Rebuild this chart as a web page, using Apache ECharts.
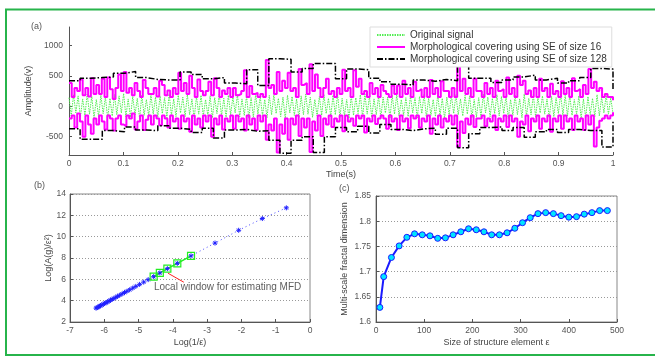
<!DOCTYPE html>
<html><head><meta charset="utf-8">
<script src="https://cdn.jsdelivr.net/npm/echarts@6/dist/echarts.min.js"></script>
<style>html,body{margin:0;padding:0;background:#fff}#c{width:655px;height:357px}</style>
</head><body><div id="c"></div>
<script>
// ---------- Panel (a): signal and morphological coverings ----------
const greenSignal = [
140,-160,190,-110,170,-180,120,-150,200,-130,
160,-190,110,-170,180,-120,150,-200,130,-160,
190,-140,170,-110,210,-170,120,-180,160,-140,
130,-200,180,-150,110,-160,190,-130,150,-180,
170,-120,140,-190,200,-150,120,-170,180,-110,
150,-170,190,-140,120,-200,160,-130,180,-160,
110,-150,170,-190,140,-120,200,-160,130,-180,
180,-140,150,-110,190,-170,120,-150,170,-200,
140,-180,200,-130,160,-150,110,-190,180,-140,
190,-120,130,-170,150,-200,180,-110,160,-150,
120,-190,170,-140,200,-130,150,-180,110,-160,
160,-150,190,-120,130,-170,180,-140,200,-190,
130,-160,110,-200,170,-150,140,-120,190,-180,
200,-130,160,-180,120,-140,170,-190,150,-110,
150,-200,180,-130,190,-160,110,-150,140,-170,
170,-110,140,-190,160,-120,200,-180,130,-150,
110,-170,190,-150,130,-200,150,-140,180,-120,
190,-140,120,-160,180,-130,170,-190,110,-180,
140,-180,200,-110,150,-170,130,-120,190,-160,
160,-120,170,-200,110,-150,180,-140,120,-190,
200,-160,130,-140,190,-180,150,-110,170,-130,
120,-190,160,-170,140,-120,200,-150,180,-160,
180,-150,110,-130,170,-200,120,-190,160,-140,
130,-170,190,-160,150,-110,180,-130,140,-120
];
const magentaUpper = [
380,150,300,250,440,180,300,160,460,200,
350,200,450,150,470,280,120,300,520,250,
560,220,300,180,380,250,150,430,300,200,
200,300,160,420,350,180,260,150,300,200,
550,250,380,200,500,300,150,440,250,180,
250,400,180,460,300,150,260,200,300,150,
300,180,200,250,590,150,330,200,220,150,
200,150,760,300,350,200,560,250,420,300,
550,250,300,150,610,350,380,200,690,250,
520,300,150,300,450,200,250,150,300,200,
600,250,300,150,590,320,450,200,250,150,
380,200,300,150,350,250,200,150,340,200,
340,150,420,200,300,150,400,250,280,150,
300,150,430,200,300,150,410,250,250,150,
300,150,710,250,450,200,300,150,450,250,
250,150,380,200,300,150,420,250,280,150,
470,200,300,150,500,350,420,200,260,150,
300,150,450,250,300,150,370,200,250,150,
410,200,300,150,460,250,280,150,350,200,
610,300,400,250,300,150,200,150,150,100
];
const magentaLower = [
-200,-150,-350,-120,-250,-500,-150,-300,-450,-200,
-300,-150,-250,-380,-150,-200,-400,-200,-150,-300,
-330,-150,-200,-120,-380,-250,-150,-390,-220,-150,
-300,-150,-200,-310,-150,-200,-350,-150,-250,-200,
-370,-150,-250,-200,-420,-150,-300,-200,-350,-150,
-250,-150,-500,-200,-300,-150,-380,-200,-250,-150,
-370,-150,-250,-200,-400,-150,-300,-200,-390,-150,
-250,-150,-550,-300,-400,-200,-760,-300,-450,-200,
-550,-200,-300,-150,-490,-200,-350,-200,-750,-250,
-400,-150,-490,-200,-300,-150,-340,-200,-250,-150,
-410,-150,-250,-200,-320,-150,-200,-150,-430,-200,
-250,-150,-290,-200,-150,-200,-370,-150,-250,-200,
-390,-150,-250,-200,-360,-150,-200,-150,-350,-200,
-250,-150,-450,-200,-300,-150,-350,-200,-250,-150,
-300,-150,-670,-250,-440,-200,-300,-150,-340,-200,
-200,-150,-330,-200,-250,-150,-390,-200,-250,-150,
-340,-150,-250,-200,-500,-250,-300,-150,-410,-200,
-250,-150,-370,-200,-250,-150,-420,-200,-250,-150,
-370,-150,-250,-200,-390,-150,-250,-200,-390,-150,
-300,-150,-660,-350,-240,-200,-150,-200,-150,-100
];
const blackUpper = [
420,460,470,480,540,570,470,440,430,430,
560,520,450,470,380,370,600,340,780,770,
560,620,700,700,450,610,600,460,400,360,
350,430,410,440,420,720,460,460,390,430,
480,510,430,460,380,420,470,620,610,250
];
const blackLower = [
-370,-540,-540,-400,-420,-340,-390,-400,-320,-360,
-380,-430,-360,-520,-390,-380,-410,-400,-560,-770,
-560,-500,-760,-500,-350,-420,-330,-440,-300,-380,
-400,-370,-360,-460,-360,-680,-450,-350,-340,-400,
-350,-510,-420,-380,-430,-380,-400,-400,-670,-250
];
const ampTicks = [-500, 0, 500, 1000];

// ---------- Panel (b): log-log plot ----------
const logInvE = [-0.69,-1.39,-2.08,-2.77,-3.47,-3.87,-4.16,-4.38,-4.56,
  -4.72,-4.85,-4.97,-5.08,-5.17,-5.26,-5.34,-5.41,-5.48,-5.55,-5.61,-5.66,-5.72,
  -5.77,-5.82,-5.86,-5.91,-5.95,-5.99,-6.03,-6.07,-6.11,-6.14,-6.17,-6.21,-6.24];
const logArea = [12.7,11.7,10.6,9.4,8.2,7.5,7.0,6.6,6.25,
  5.97,5.74,5.53,5.34,5.18,5.02,4.88,4.76,4.64,4.51,4.41,4.32,4.21,
  4.13,4.04,3.97,3.88,3.81,3.74,3.67,3.60,3.53,3.48,3.42,3.35,3.30];
const windowX = [-3.47,-3.87,-4.16,-4.38,-4.56];
const windowY = [8.2,7.5,7.0,6.6,6.25];
const pointerX = [-4.14, -3.68];
const pointerY = [6.57, 5.73];
const noteText = 'Local window for estimating MFD';
const notePos = [-4.55, 5.30];

// ---------- Panel (c): multi-scale fractal dimension ----------
const seSize = [8,16,32,48,64,80,96,112,128,144,160,176,192,208,224,240,256,272,288,304,320,336,352,368,384,400,416,432,448,464,480];
const mfd = [1.629,1.690,1.728,1.751,1.768,1.775,1.773,1.771,1.766,1.767,1.773,1.779,1.785,1.783,1.779,1.773,1.773,1.777,1.786,1.797,1.807,1.815,1.817,1.815,1.811,1.808,1.809,1.814,1.817,1.821,1.821];

const FONT = '"Liberation Sans", Arial, sans-serif';
const timed = arr => arr.map((v, i) => [i / (arr.length - 1), v]);
const zip = (xs, ys) => xs.map((x, i) => [x, ys[i]]);

const axisCommon = {
  axisLine: { onZero: false, lineStyle: { color: '#555', width: 1 } },
  axisTick: { inside: true, length: 3, lineStyle: { color: '#555' } },
  axisLabel: { fontSize: 8.5, color: '#555', fontFamily: FONT, margin: 4 },
  nameTextStyle: { fontSize: 9, color: '#444', fontFamily: FONT },
  nameLocation: 'middle'
};
const dotted = { show: true, lineStyle: { type: [1, 2], color: '#999', width: 1 } };

const chart = echarts.init(document.getElementById('c'), null, { renderer: 'canvas' });
const N16 = 'Morphological covering using SE of size 16';
const N128 = 'Morphological covering using SE of size 128';
const blackDash = [6, 2, 1.5, 2];

chart.setOption({
  animation: false,
  backgroundColor: '#fff',
  textStyle: { fontFamily: FONT },
  graphic: [
    { type: 'rect', shape: { x: 6, y: 9.5, width: 660, height: 345.5 }, style: { fill: 'none', stroke: '#27b44b', lineWidth: 2 }, z: 100 },
    { type: 'text', left: 31, top: 22, style: { text: '(a)', fontSize: 9, fill: '#555', fontFamily: FONT } },
    { type: 'text', left: 34, top: 181, style: { text: '(b)', fontSize: 9, fill: '#555', fontFamily: FONT } },
    { type: 'text', left: 339, top: 184, style: { text: '(c)', fontSize: 9, fill: '#555', fontFamily: FONT } }
  ],
  legend: {
    left: 370, top: 27, orient: 'vertical', itemWidth: 28, itemHeight: 8, itemGap: 2,
    padding: [3, 5, 3, 6], borderColor: '#ddd', borderWidth: 1, backgroundColor: '#fff',
    selectedMode: false,
    itemStyle: { opacity: 0 },
    textStyle: { fontSize: 10, color: '#333', fontFamily: FONT },
    data: ['Original signal', N16, N128]
  },
  grid: [
    { left: 69, right: 42, top: 27, bottom: 202 },
    { left: 70, right: 345, top: 194, bottom: 35, show: true, borderColor: '#888', borderWidth: 1 },
    { left: 376, right: 38, top: 196, bottom: 35, show: true, borderColor: '#888', borderWidth: 1 }
  ],
  xAxis: [
    Object.assign({}, axisCommon, { gridIndex: 0, type: 'value', min: 0, max: 1, interval: 0.1, splitLine: { show: false }, name: 'Time(s)', nameGap: 15 }),
    Object.assign({}, axisCommon, { gridIndex: 1, type: 'value', min: -7, max: 0, interval: 1, splitLine: { show: false }, name: 'Log(1/ε)', nameGap: 16 }),
    Object.assign({}, axisCommon, { gridIndex: 2, type: 'value', min: 0, max: 500, interval: 100, splitLine: { show: false }, name: 'Size of structure element ε', nameGap: 16 })
  ],
  yAxis: [
    Object.assign({}, axisCommon, { gridIndex: 0, type: 'value', min: -800, max: 1300, splitLine: { show: false },
      axisLabel: Object.assign({}, axisCommon.axisLabel, { customValues: ampTicks, margin: 6, formatter: v => String(v) }),
      axisTick: Object.assign({}, axisCommon.axisTick, { customValues: ampTicks }),
      name: 'Amplitude(v)', nameGap: 28 }),
    Object.assign({}, axisCommon, { gridIndex: 1, type: 'value', min: 2, max: 14, interval: 2, splitLine: dotted, name: 'Log(A(g)/ε²)', nameGap: 17,
      axisLabel: Object.assign({}, axisCommon.axisLabel, { margin: 4 }) }),
    Object.assign({}, axisCommon, { gridIndex: 2, type: 'value', min: 1.6, max: 1.85, interval: 0.05, splitLine: dotted, name: 'Multi-scale fractal dimension', nameGap: 27,
      axisLabel: Object.assign({}, axisCommon.axisLabel, { margin: 5 }) })
  ],
  series: [
    { name: 'Original signal', type: 'line', xAxisIndex: 0, yAxisIndex: 0, data: timed(greenSignal), symbol: 'none',
      lineStyle: { color: '#55ee55', width: 1, type: [1.5, 1] }, itemStyle: { color: '#55ee55' }, silent: true },
    { name: N16, type: 'line', xAxisIndex: 0, yAxisIndex: 0, data: timed(magentaUpper), step: 'end', symbol: 'none',
      lineStyle: { color: '#ff00ff', width: 2 }, itemStyle: { color: '#ff00ff' }, silent: true },
    { name: N16, type: 'line', xAxisIndex: 0, yAxisIndex: 0, data: timed(magentaLower), step: 'end', symbol: 'none',
      lineStyle: { color: '#ff00ff', width: 2 }, itemStyle: { color: '#ff00ff' }, silent: true },
    { name: N128, type: 'line', xAxisIndex: 0, yAxisIndex: 0, data: timed(blackUpper), step: 'end', symbol: 'none',
      lineStyle: { color: '#000', width: 1.5, type: blackDash }, itemStyle: { color: '#000' }, silent: true },
    { name: N128, type: 'line', xAxisIndex: 0, yAxisIndex: 0, data: timed(blackLower), step: 'end', symbol: 'none',
      lineStyle: { color: '#000', width: 1.5, type: blackDash }, itemStyle: { color: '#000' }, silent: true },

    { type: 'line', xAxisIndex: 1, yAxisIndex: 1, data: zip(logInvE, logArea),
      symbol: 'path://M0,-5L0,5M-5,0L5,0M-3.5,-3.5L3.5,3.5M-3.5,3.5L3.5,-3.5', symbolSize: 5,
      itemStyle: { color: '#2020ff', borderColor: '#2020ff', borderWidth: 1 },
      lineStyle: { color: '#4a4aff', width: 1, type: [1, 3] }, silent: true },
    { type: 'line', xAxisIndex: 1, yAxisIndex: 1, data: zip(windowX, windowY), symbol: 'rect', symbolSize: 7,
      itemStyle: { color: 'rgba(0,0,0,0)', borderColor: '#22ee22', borderWidth: 1.2 },
      lineStyle: { color: '#22ee22', width: 1.4 }, silent: true, z: 3 },
    { type: 'line', xAxisIndex: 1, yAxisIndex: 1, data: zip(pointerX, pointerY), symbol: 'none',
      lineStyle: { color: '#ff2020', width: 1 }, silent: true, z: 4 },
    { type: 'scatter', xAxisIndex: 1, yAxisIndex: 1, data: [notePos], symbolSize: 0, silent: true,
      label: { show: true, position: 'right', distance: 0, formatter: noteText, fontSize: 10, color: '#333', fontFamily: FONT } },

    { type: 'line', xAxisIndex: 2, yAxisIndex: 2, data: zip(seSize, mfd), symbol: 'circle', symbolSize: 6,
      itemStyle: { color: '#00e5ff', borderColor: '#1a1aff', borderWidth: 1 },
      lineStyle: { color: '#1a1aff', width: 2 }, silent: true }
  ]
});
</script>
</body></html>
